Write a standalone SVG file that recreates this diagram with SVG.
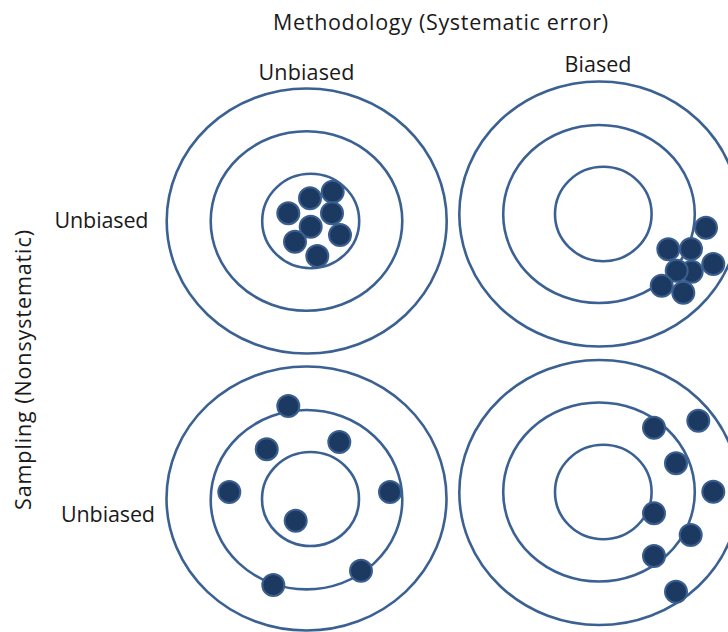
<svg xmlns="http://www.w3.org/2000/svg" width="728" height="632" viewBox="0 0 728 632">
<style>
.ring{fill:none;stroke:#3b6193;stroke-width:2.6}
.dot{fill:#1c3961;stroke:#3a5f8f;stroke-width:2}
.lbl{font-family:"Open Sans","Liberation Sans",sans-serif;font-size:21.5px;fill:#1a1a1a;text-anchor:middle}
</style>
<rect width="728" height="632" fill="#fff"/>
<g id="labels">
<text class="lbl" x="440.5" y="30" textLength="335" lengthAdjust="spacing">Methodology (Systematic error)</text>
<text class="lbl" x="306.5" y="80" textLength="96" lengthAdjust="spacing">Unbiased</text>
<text class="lbl" x="598" y="72" textLength="67" lengthAdjust="spacing">Biased</text>
<text class="lbl" x="101.5" y="228" textLength="94" lengthAdjust="spacing">Unbiased</text>
<text class="lbl" x="108" y="522" textLength="94" lengthAdjust="spacing">Unbiased</text>
<text class="lbl" transform="translate(31,370) rotate(-90)" x="0" y="0" textLength="280" lengthAdjust="spacing">Sampling (Nonsystematic)</text>
</g>
<g id="target-tl">
<ellipse class="ring" cx="306.7" cy="221" rx="140" ry="132.5"/>
<ellipse class="ring" cx="306.5" cy="221" rx="95.8" ry="89.8"/>
<ellipse class="ring" cx="310.7" cy="221" rx="48.5" ry="47.2"/>
<circle class="dot" cx="288.3" cy="213.3" r="11"/>
<circle class="dot" cx="310" cy="198.3" r="11"/>
<circle class="dot" cx="332.7" cy="191.7" r="11"/>
<circle class="dot" cx="332" cy="213.3" r="11"/>
<circle class="dot" cx="310.7" cy="226.7" r="11"/>
<circle class="dot" cx="295" cy="241.7" r="11"/>
<circle class="dot" cx="340" cy="235" r="11"/>
<circle class="dot" cx="317.3" cy="256" r="11"/>
</g>
<g id="target-tr">
<ellipse class="ring" cx="599.3" cy="214" rx="140" ry="132.5"/>
<ellipse class="ring" cx="599" cy="214" rx="95.8" ry="89"/>
<ellipse class="ring" cx="603.3" cy="214" rx="48.3" ry="47.2"/>
<circle class="dot" cx="706" cy="227.7" r="11"/>
<circle class="dot" cx="668.3" cy="249.3" r="11"/>
<circle class="dot" cx="691" cy="249" r="11"/>
<circle class="dot" cx="713.3" cy="264" r="11"/>
<circle class="dot" cx="691.7" cy="271.7" r="11"/>
<circle class="dot" cx="676.7" cy="270.7" r="11"/>
<circle class="dot" cx="661.7" cy="285.7" r="11"/>
<circle class="dot" cx="683.3" cy="292.7" r="11"/>
</g>
<g id="target-bl">
<ellipse class="ring" cx="306.5" cy="498.5" rx="140" ry="132"/>
<ellipse class="ring" cx="306.5" cy="499.7" rx="95.8" ry="89.7"/>
<ellipse class="ring" cx="310.5" cy="499" rx="48.5" ry="47"/>
<circle class="dot" cx="288.3" cy="406" r="11"/>
<circle class="dot" cx="266.7" cy="449.3" r="11"/>
<circle class="dot" cx="339.3" cy="442" r="11"/>
<circle class="dot" cx="229.3" cy="492" r="11"/>
<circle class="dot" cx="390" cy="492" r="11"/>
<circle class="dot" cx="295.7" cy="520.7" r="11"/>
<circle class="dot" cx="273.3" cy="585" r="11"/>
<circle class="dot" cx="361" cy="570.7" r="11"/>
</g>
<g id="target-br">
<ellipse class="ring" cx="599.3" cy="492.5" rx="140" ry="132.5"/>
<ellipse class="ring" cx="599" cy="492" rx="95.8" ry="89.5"/>
<ellipse class="ring" cx="603.3" cy="492" rx="48.3" ry="47.2"/>
<circle class="dot" cx="654" cy="427.7" r="11"/>
<circle class="dot" cx="698.3" cy="420.7" r="11"/>
<circle class="dot" cx="676" cy="463.3" r="11"/>
<circle class="dot" cx="713.3" cy="491.7" r="11"/>
<circle class="dot" cx="654" cy="513.3" r="11"/>
<circle class="dot" cx="690.7" cy="535" r="11"/>
<circle class="dot" cx="654" cy="556" r="11"/>
<circle class="dot" cx="676" cy="591.7" r="11"/>
</g>
<g id="connectors"/>
</svg>
